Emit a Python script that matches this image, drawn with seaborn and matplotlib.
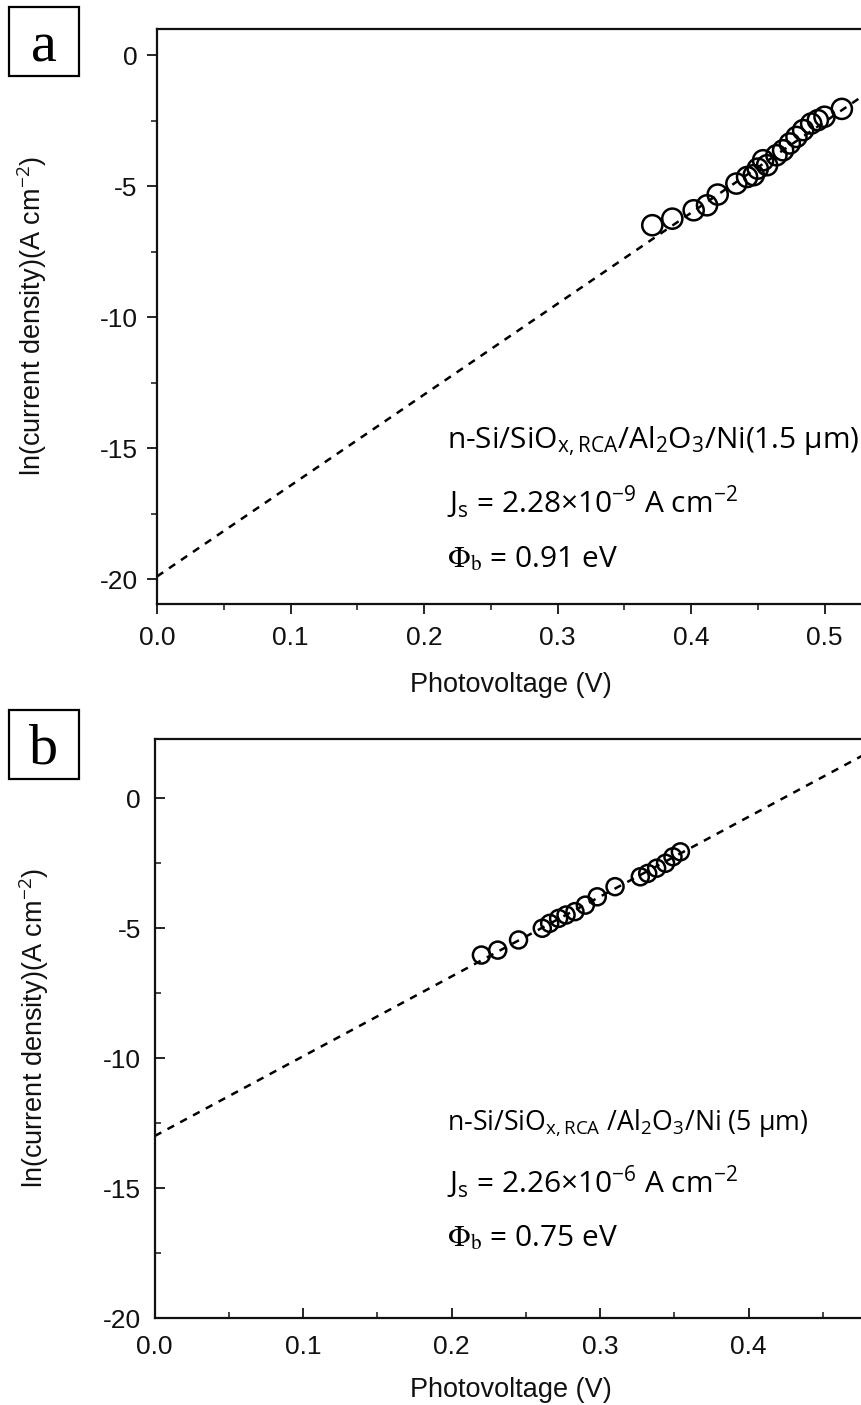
import numpy as np
import pandas as pd
import matplotlib
matplotlib.use("Agg")
import matplotlib.pyplot as plt
from matplotlib.patches import Rectangle
from matplotlib.ticker import MultipleLocator
import seaborn as sns

# Panel (a): n-Si/SiOx,RCA/Al2O3/Ni (1.5 µm)
voltage_a = [0.371, 0.386, 0.402, 0.412, 0.420, 0.434, 0.442, 0.447, 0.450, 0.457,
             0.454, 0.464, 0.469, 0.474, 0.479, 0.484, 0.490, 0.495, 0.500, 0.513]
ln_j_a = [-6.49, -6.24, -5.92, -5.73, -5.32, -4.90, -4.65, -4.58, -4.33, -4.20,
          -4.01, -3.82, -3.63, -3.37, -3.12, -2.86, -2.61, -2.48, -2.35, -2.05]
js_a = 2.28e-9          # saturation current density, A cm^-2
slope_a = 34.7          # d ln(J) / dV, 1/V
phi_a = 0.91            # barrier height, eV

# Panel (b): n-Si/SiOx,RCA/Al2O3/Ni (5 µm)
voltage_b = [0.220, 0.231, 0.245, 0.261, 0.266, 0.272, 0.277, 0.283, 0.290, 0.298,
             0.310, 0.327, 0.332, 0.338, 0.344, 0.349, 0.354]
ln_j_b = [-6.04, -5.85, -5.46, -5.01, -4.82, -4.63, -4.50, -4.37, -4.12, -3.80,
          -3.41, -3.03, -2.90, -2.70, -2.51, -2.26, -2.07]
js_b = 2.26e-6
slope_b = 30.7
phi_b = 0.75

x_ticks_a = [0.0, 0.1, 0.2, 0.3, 0.4, 0.5]
x_ticks_b = [0.0, 0.1, 0.2, 0.3, 0.4]
y_ticks = [0, -5, -10, -15, -20]

sns.set_theme(style="ticks")
plt.rcParams["font.family"] = ["Liberation Sans", "DejaVu Sans"]
plt.rcParams["mathtext.fontset"] = "custom"
plt.rcParams["mathtext.rm"] = "Open Sans"
plt.rcParams["mathtext.it"] = "Open Sans:italic"
plt.rcParams["mathtext.bf"] = "Open Sans:bold"

W, H = 861, 1405
fig = plt.figure(figsize=(W / 100, H / 100), dpi=100)
fig.patch.set_facecolor("white")


def px_axes(left, top, right, bottom):
    return fig.add_axes([left / W, 1 - bottom / H, (right - left) / W, (bottom - top) / H])


def draw_panel(ax, volts, lnj, js, slope, xlim, ylim, ticks_dir, tick_pad, marker_s,
               xticks, text_x, text_y, label_lines, title_size):
    ax.set_facecolor("white")
    fit = pd.DataFrame({"v": [0.0, xlim[1]]})
    fit["lnj"] = np.log(js) + slope * fit["v"]
    sns.lineplot(data=fit, x="v", y="lnj", ax=ax, color="black", lw=1.8,
                 dashes=False, zorder=2).lines[0].set_dashes((3.0, 2.8))
    pts = pd.DataFrame({"v": volts, "lnj": lnj})
    sns.scatterplot(data=pts, x="v", y="lnj", ax=ax, marker="o", s=marker_s,
                    facecolors="none", edgecolor="black", linewidth=1.8, zorder=3)
    ax.set_xlim(*xlim)
    ax.set_ylim(*ylim)
    ax.set_xticks(xticks)
    ax.set_xticklabels([f"{t:.1f}" for t in xticks])
    ax.set_yticks(y_ticks)
    ax.set_yticklabels([f"{t:d}" for t in y_ticks])
    ax.xaxis.set_minor_locator(MultipleLocator(0.05))
    ax.yaxis.set_minor_locator(MultipleLocator(2.5))
    ax.tick_params(which="major", direction=ticks_dir, length=7.5, width=1.2,
                   labelsize=19, color="black", labelcolor="#111111",
                   top=False, right=False)
    ax.tick_params(axis="x", which="major", pad=tick_pad[0])
    ax.tick_params(axis="y", which="major", pad=tick_pad[1])
    ax.tick_params(which="minor", direction=ticks_dir, length=4, width=1.2,
                   top=False, right=False)
    for sp in ax.spines.values():
        sp.set_linewidth(1.6)
        sp.set_color("#111111")
    ax.set_xlabel("Photovoltage (V)", fontsize=19.5, color="#111111")
    ax.set_ylabel(r"ln(current density)(A cm$^{-2}$)", fontsize=19.5, color="#111111")
    for i, (line, y) in enumerate(zip(label_lines, text_y)):
        kw = dict(fontsize=title_size if i == 0 else 21.5, family="Open Sans",
                  color="black", va="center", ha="left")
        if line.startswith(r"$\Phi"):
            kw["math_fontfamily"] = "stix"
        ax.text(text_x, y, line, **kw)


def js_label(js):
    mant, expo = f"{js:.2e}".split("e")
    return rf"J$_\mathrm{{s}}$ = {mant}×10$^{{\mathrm{{{int(expo)}}}}}$ A cm$^{{\mathrm{{-2}}}}$"


ax_a = px_axes(157, 29, 157 + 0.53 * 1335, 604)
draw_panel(ax_a, voltage_a, ln_j_a, js_a, slope_a, (0.0, 0.53), (-20.95, 1.0), "out",
           (8, 6.5), 210, x_ticks_a, 0.217, [-14.73, -17.06, -19.25],
           [r"n-Si/SiO$_\mathrm{x,RCA}$/Al$_\mathrm{2}$O$_\mathrm{3}$/Ni(1.5 µm)",
            js_label(js_a),
            rf"$\Phi_\mathrm{{b}}$ = {phi_a:.2f} eV"], 21.5)
ax_a.xaxis.labelpad = 16
ax_a.yaxis.labelpad = 36

ax_b = px_axes(154.7, 739, 154.7 + 0.48 * 1485, 1318)
draw_panel(ax_b, voltage_b, ln_j_b, js_b, slope_b, (0.0, 0.48), (-20.0, 2.27), "in",
           (12, 10), 150, x_ticks_b, 0.197, [-12.5, -14.76, -16.95],
           [r"n-Si/SiO$_\mathrm{x,RCA}$ /Al$_\mathrm{2}$O$_\mathrm{3}$/Ni (5 µm)",
            js_label(js_b),
            rf"$\Phi_\mathrm{{b}}$ = {phi_b:.2f} eV"], 19.3)
ax_b.xaxis.labelpad = 13
ax_b.yaxis.labelpad = 37

# Boxed panel letters
for letter, (x0, y0, x1, y1), base in [("a", (9, 7, 79, 76), 62), ("b", (9, 710, 79, 779), 763)]:
    fig.patches.append(Rectangle((x0 / W, 1 - y1 / H), (x1 - x0) / W, (y1 - y0) / H,
                                 transform=fig.transFigure, fill=False,
                                 edgecolor="black", linewidth=1.6))
    fig.text((x0 + x1) / 2 / W, 1 - base / H, letter, ha="center", va="baseline",
             fontsize=42, family="Liberation Serif", color="black")

fig.savefig("out.png", dpi=100, facecolor="white")
